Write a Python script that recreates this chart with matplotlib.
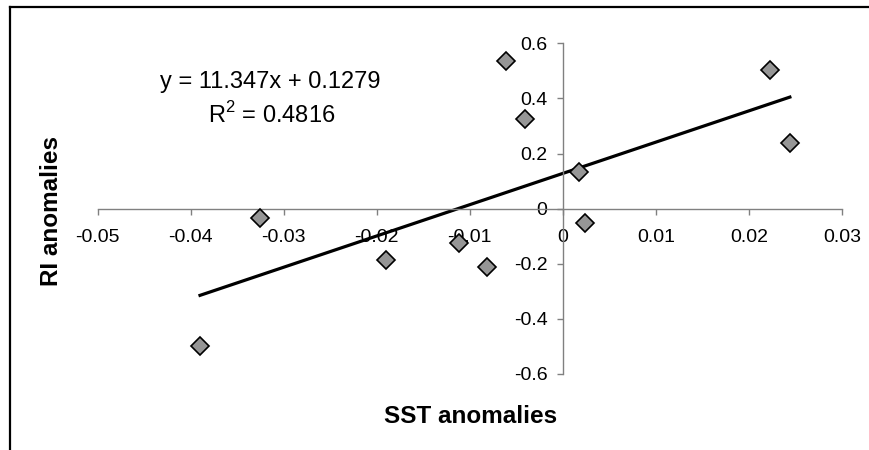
import numpy as np
import matplotlib
matplotlib.use("Agg")
import matplotlib.pyplot as plt
from matplotlib.lines import Line2D

plt.rcParams["font.family"] = ["Liberation Sans", "DejaVu Sans"]
plt.rcParams["mathtext.fontset"] = "custom"
plt.rcParams["mathtext.rm"] = "Liberation Sans"

# SST anomalies vs RI anomalies
sst = [-0.0390, -0.0325, -0.0190, -0.0112, -0.0082, -0.0061, -0.0041,
       0.0017, 0.0024, 0.0223, 0.0244]
ri = [-0.500, -0.034, -0.185, -0.124, -0.210, 0.537, 0.325,
      0.132, -0.052, 0.504, 0.240]

# linear trendline as printed on the chart
slope = 11.347
intercept = 0.1279
r2 = 0.4816

xticks = [-0.05, -0.04, -0.03, -0.02, -0.01, 0, 0.01, 0.02, 0.03]
yticks = [-0.6, -0.4, -0.2, 0, 0.2, 0.4, 0.6]

W, H = 869, 450
fig = plt.figure(figsize=(W / 100, H / 100), dpi=100)
ax = fig.add_axes([0.1124, 0.1689, 0.8565, 0.7349])

# trendline across the data range
xs = np.array([min(sst), max(sst)])
ax.plot(xs, slope * xs + intercept, color="black", lw=2.3, zorder=2)

ax.plot(sst, ri, linestyle="none", marker="D", ms=9,
        mfc="#969696", mec="black", mew=1.2, zorder=3)

ax.set_xlim(-0.05, 0.03)
ax.set_ylim(-0.6, 0.6)
ax.set_xticks(xticks)
ax.set_yticks(yticks)
ax.set_xticklabels([f"{v:g}" for v in xticks])
ax.set_yticklabels([f"{v:g}" for v in yticks])

# axes crossing at zero, Excel style
ax.spines["left"].set_position(("data", 0))
ax.spines["bottom"].set_position(("data", 0))
ax.spines["top"].set_visible(False)
ax.spines["right"].set_visible(False)
for s in ("left", "bottom"):
    ax.spines[s].set_color("#808080")
    ax.spines[s].set_linewidth(1.0)
ax.tick_params(axis="x", direction="out", length=4, width=1, color="#808080",
               pad=11, labelsize=14)
ax.tick_params(axis="y", direction="out", length=4, width=1, color="#808080",
               pad=7, labelsize=14)
ax.patch.set_visible(False)

# trendline equation, placed in pixel terms of the figure
fig.text(270 / W, 1 - 88 / H, f"y = {slope}x + {intercept}",
         ha="center", va="baseline", fontsize=17)
fig.text(272 / W, 1 - 123 / H, f"R$^2$ = {r2}",
         ha="center", va="baseline", fontsize=17)

fig.text(471 / W, 1 - 423 / H, "SST anomalies", ha="center", va="baseline",
         fontsize=17.5, fontweight="bold")
fig.text(51.5 / W, 1 - 211 / H, "RI anomalies", ha="center", va="center",
         rotation=90, fontsize=17.5, fontweight="bold")

# chart frame (only top and left edges fall inside the image)
fig.add_artist(Line2D([9.5 / W, 1], [1 - 6.5 / H, 1 - 6.5 / H],
                      transform=fig.transFigure, color="black", lw=1.6))
fig.add_artist(Line2D([9.5 / W, 9.5 / W], [0, 1 - 6.5 / H],
                      transform=fig.transFigure, color="black", lw=1.6))

fig.savefig("out.png", dpi=100)
